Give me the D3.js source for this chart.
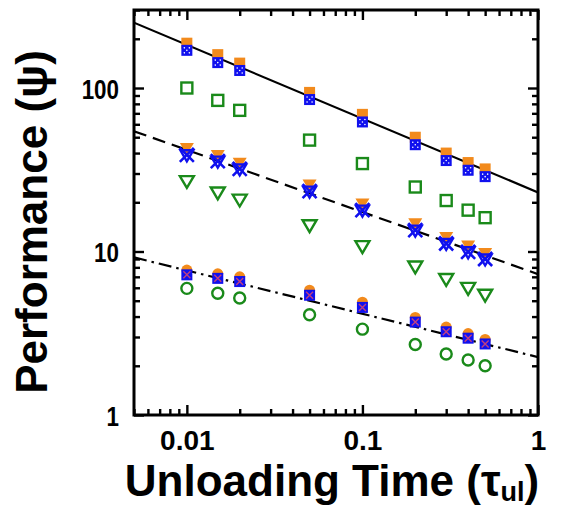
<!DOCTYPE html>
<html>
<head>
<meta charset="utf-8">
<script src="https://cdn.jsdelivr.net/npm/d3@7"></script>
<style>
  body { margin: 0; background: #fff; }
  svg { display: block; }
  text { font-family: "Liberation Sans", Arial, sans-serif; font-weight: bold; }
</style>
</head>
<body>
<script>
// unloading times (x) and the three groups of measurements
var tau = [0.01, 0.015, 0.02, 0.05, 0.1, 0.2, 0.3, 0.4, 0.5];

var sqOrange = [188, 160, 142, 94, 69, 50, 40, 35, 32];
var sqBlue   = [170, 143, 128, 85, 62, 45, 36, 31.4, 28.7];
var sqGreen  = [100, 84, 73, 48, 34.5, 24.8, 20.5, 17.9, 16.1];

var triOrange = [43, 39, 35, 25.7, 19.7, 14.9, 12.3, 10.9, 9.8];
var triBlue   = [39, 35.7, 32, 23.4, 17.9, 13.5, 11.2, 9.95, 9.0];
var triGreen  = [27, 23, 20.8, 14.5, 10.8, 8.1, 6.8, 6.0, 5.45];

var circOrange = [7.7, 7.3, 7.0, 5.8, 4.9, 3.95, 3.45, 3.15, 2.9];
var circBlue   = [7.2, 6.85, 6.55, 5.4, 4.55, 3.7, 3.23, 2.95, 2.72];
var circGreen  = [5.95, 5.55, 5.2, 4.1, 3.35, 2.7, 2.36, 2.17, 2.0];

// fitted power-law lines, read at both ends of the x range
var fitTau     = [0.005, 1];
var fitSolid   = [251, 23];
var fitDashed  = [54.4, 7.27];
var fitDashDot = [9.2, 2.26];

var xMajor = [0.01, 0.1, 1];
var yMajor = [1, 10, 100];
var xMinor = [0.005, 0.006, 0.007, 0.008, 0.009, 0.02, 0.03, 0.04, 0.05, 0.06, 0.07, 0.08, 0.09,
              0.2, 0.3, 0.4, 0.5, 0.6, 0.7, 0.8, 0.9];
var yMinor = [2, 3, 4, 5, 6, 7, 8, 9, 20, 30, 40, 50, 60, 70, 80, 90, 200, 300];

var margin = {top: 10, right: 25, bottom: 91, left: 134},
    W = 563, H = 506,
    width = W - margin.left - margin.right,
    height = H - margin.top - margin.bottom;

var orange = "#f28a1c", blue = "#1010ee", green = "#1a8a1a";

var svg = d3.select("body").append("svg")
    .attr("width", W)
    .attr("height", H);

var g = svg.append("g")
    .attr("transform", "translate(" + margin.left + "," + margin.top + ")");

var x = d3.scaleLog().domain([0.005, 1]).range([0, width]);
var y = d3.scaleLog().domain([1, 300]).range([height, 0]);

// ticks pointing inward on all four sides
function addAxis(axisFn, scale, vals, size, tr, labels) {
    var a = axisFn(scale).tickValues(vals).tickSizeInner(-size).tickSizeOuter(0)
        .tickFormat(labels ? function(d) { return d; } : "");
    var ax = g.append("g").attr("transform", tr).call(a);
    ax.select(".domain").remove();
    ax.selectAll("line").attr("stroke", "#000").attr("stroke-width", 2.4);
    return ax;
}
var xb = addAxis(d3.axisBottom, x, xMajor, 10, "translate(0," + height + ")", true);
addAxis(d3.axisBottom, x, xMinor, 6, "translate(0," + height + ")", false);
addAxis(d3.axisTop, x, xMajor, 10, null, false);
addAxis(d3.axisTop, x, xMinor, 6, null, false);
var yl = addAxis(d3.axisLeft, y, yMajor, 10, null, true);
addAxis(d3.axisLeft, y, yMinor, 6, null, false);
addAxis(d3.axisRight, y, yMajor, 10, "translate(" + width + ",0)", false);
addAxis(d3.axisRight, y, yMinor, 6, "translate(" + width + ",0)", false);

xb.selectAll("text")
    .attr("font-size", 28).attr("fill", "#000")
    .attr("y", 15).attr("dy", "0.71em");
yl.selectAll("text")
    .attr("font-size", 28).attr("fill", "#000")
    .attr("x", 0).attr("dy", "0.36em")
    .attr("transform", "translate(-15,0) scale(0.8,1)");

// frame
g.append("rect")
    .attr("width", width).attr("height", height)
    .attr("fill", "none").attr("stroke", "#000").attr("stroke-width", 3);

// fit lines
g.append("clipPath").attr("id", "clip").append("rect")
    .attr("width", width).attr("height", height);
var line = d3.line().x(function(d) { return x(d[0]); }).y(function(d) { return y(d[1]); });
[[fitSolid, null], [fitDashed, "13,7"], [fitDashDot, "13,5,2.5,5"]].forEach(function(f) {
    g.append("path")
        .datum(d3.zip(fitTau, f[0]))
        .attr("d", line)
        .attr("fill", "none")
        .attr("stroke", "#000")
        .attr("stroke-width", 2.2)
        .attr("stroke-dasharray", f[1])
        .attr("clip-path", "url(#clip)");
});

// marker helpers
var sq = 11;
function squares(vals, fill, stroke, size) {
    var s = size || sq;
    g.append("g").selectAll("rect").data(d3.zip(tau, vals)).join("rect")
        .attr("x", function(d) { return x(d[0]) - s / 2; })
        .attr("y", function(d) { return y(d[1]) - s / 2; })
        .attr("width", s).attr("height", s)
        .attr("fill", fill || "none")
        .attr("stroke", stroke || "none")
        .attr("stroke-width", 2.4);
}
function dots(vals, col) {
    var off = [[0, 0], [-2.5, -2.5], [2.5, -2.5], [-2.5, 2.5], [2.5, 2.5]];
    var pts = [];
    d3.zip(tau, vals).forEach(function(d) {
        off.forEach(function(o) { pts.push([x(d[0]) + o[0], y(d[1]) + o[1]]); });
    });
    g.append("g").selectAll("circle").data(pts).join("circle")
        .attr("cx", function(d) { return d[0]; })
        .attr("cy", function(d) { return d[1]; })
        .attr("r", 0.8).attr("fill", col);
}
function triangles(vals, fill, stroke, s) {
    g.append("g").selectAll("path").data(d3.zip(tau, vals)).join("path")
        .attr("d", function(d) {
            var cx = x(d[0]), cy = y(d[1]);
            return "M" + (cx - s) + "," + (cy - s * 0.7) + "L" + (cx + s) + "," + (cy - s * 0.7) +
                   "L" + cx + "," + (cy + s) + "Z";
        })
        .attr("fill", fill || "none")
        .attr("stroke", stroke || "none")
        .attr("stroke-width", 2.4)
        .attr("stroke-linejoin", "miter");
}
function crosses(vals, col, s, w) {
    g.append("g").selectAll("path").data(d3.zip(tau, vals)).join("path")
        .attr("d", function(d) {
            var cx = x(d[0]), cy = y(d[1]);
            return "M" + (cx - s) + "," + (cy - s) + "L" + (cx + s) + "," + (cy + s) +
                   "M" + (cx + s) + "," + (cy - s) + "L" + (cx - s) + "," + (cy + s);
        })
        .attr("fill", "none").attr("stroke", col).attr("stroke-width", w);
}
function circles(vals, fill, stroke, r) {
    g.append("g").selectAll("circle").data(d3.zip(tau, vals)).join("circle")
        .attr("cx", function(d) { return x(d[0]); })
        .attr("cy", function(d) { return y(d[1]); })
        .attr("r", r)
        .attr("fill", fill || "none")
        .attr("stroke", stroke || "none")
        .attr("stroke-width", 2.4);
}

// group 1: squares
squares(sqOrange, orange);
squares(sqBlue, blue);
dots(sqBlue, "#fff");
squares(sqGreen, null, green, 11);

// group 2: down triangles
triangles(triOrange, orange, null, 7);
triangles(triBlue, null, blue, 6.5);
crosses(triBlue, blue, 7, 2.6);
triangles(triGreen, null, green, 7);

// group 3: circles
circles(circOrange, orange, null, 5.5);
squares(circBlue, blue);
crosses(circBlue, "#c04080", 3.5, 1.4);
circles(circGreen, null, green, 5.5);

// axis titles
svg.append("text")
    .attr("transform", "translate(47," + 222 + ") rotate(-90)")
    .attr("text-anchor", "middle")
    .attr("font-size", 44)
    .text("Performance (ψ)");

var xt = svg.append("text")
    .attr("x", 332)
    .attr("y", 496)
    .attr("text-anchor", "middle")
    .attr("font-size", 44);
xt.append("tspan").text("Unloading Time (τ");
xt.append("tspan").attr("font-size", 27).attr("dy", 5).text("ul");
xt.append("tspan").attr("dy", -5).text(")");
</script>
</body>
</html>
